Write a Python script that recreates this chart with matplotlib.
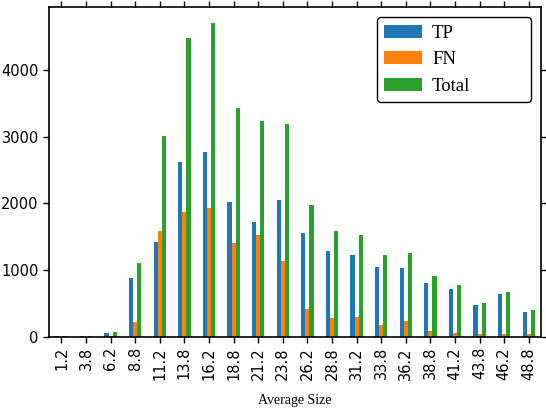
import matplotlib
matplotlib.use("Agg")
import matplotlib.pyplot as plt
import numpy as np

# data
sizes = ["1.2", "3.8", "6.2", "8.8", "11.2", "13.8", "16.2", "18.8", "21.2", "23.8",
         "26.2", "28.8", "31.2", "33.8", "36.2", "38.8", "41.2", "43.8", "46.2", "48.8"]
tp = [4, 3, 55, 881, 1417, 2613, 2769, 2023, 1718, 2053,
      1555, 1291, 1222, 1047, 1027, 806, 716, 476, 637, 366]
fn = [1, 1, 12, 225, 1587, 1868, 1937, 1407, 1527, 1141,
      416, 285, 296, 176, 231, 90, 60, 40, 45, 45]
total = [5, 4, 70, 1107, 3009, 4480, 4706, 3434, 3243, 3194,
         1975, 1583, 1522, 1222, 1257, 907, 772, 506, 671, 401]

serif = ["Liberation Serif", "DejaVu Serif"]

fig = plt.figure(figsize=(5.46, 4.08), dpi=100)
ax = fig.add_axes([0.090, 0.175, 0.901, 0.807])

x = np.arange(len(sizes))
w = 0.5 / 3
ax.bar(x - w, tp, w, color="#1f77b4", label="TP")
ax.bar(x, fn, w, color="#ff7f0e", label="FN")
ax.bar(x + w, total, w, color="#2ca02c", label="Total")

ax.set_xlim(-0.5, len(sizes) - 0.5)
ax.set_ylim(0, max(total) * 1.05)
ax.set_xticks(x)
ax.set_xticklabels(sizes, rotation=90, fontsize=10.5)
ax.set_yticks([0, 1000, 2000, 3000, 4000])
ax.tick_params(axis="y", labelsize=10.5)
ax.tick_params(direction="out", top=True, right=True, length=4, width=1)
for s in ax.spines.values():
    s.set_linewidth(1.2)

ax.set_xlabel("Average Size", family=serif, fontsize=10, labelpad=10)

# legend box stretched to the width seen in the reference
leg = ax.legend(loc="upper left", mode="expand",
                bbox_to_anchor=(0.666, 0.5, 0.313, 0.4706), borderaxespad=0,
                prop={"family": serif, "size": 13.5}, labelspacing=0.5,
                handlelength=2.0, handletextpad=0.55,
                frameon=True, fancybox=True, edgecolor="black", framealpha=1)
leg.get_frame().set_linewidth(1.0)

plt.savefig("out.png", dpi=100)
